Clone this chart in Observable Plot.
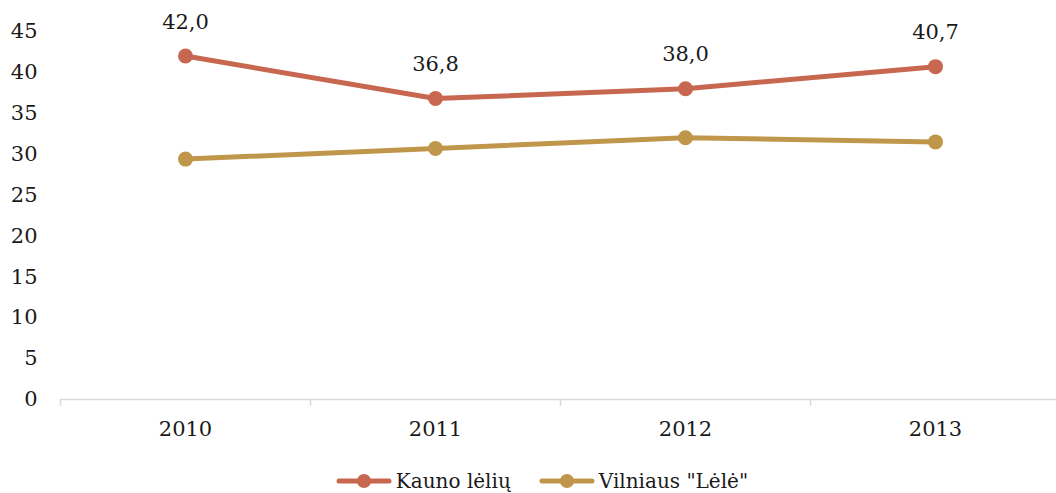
<!DOCTYPE html>
<html>
<head>
<meta charset="utf-8">
<script src="https://cdn.jsdelivr.net/npm/d3@7"></script>
<script src="https://cdn.jsdelivr.net/npm/@observablehq/plot@0.6"></script>
<style>
  html, body { margin: 0; padding: 0; background: #fff; overflow: hidden; }
  #chart svg { display: block; }
  .legend { display: flex; justify-content: center; align-items: center; height: 26px; margin-top: 14px; font-family: "DejaVu Serif", serif; font-size: 20px; color: #1a1a1a; padding-left: 28px; }
  .legend .item { display: flex; align-items: center; margin: 0 14px; }
  .legend svg { margin-right: 4px; }
</style>
</head>
<body>
<div id="chart"></div>
<div class="legend" id="legend"></div>
<script>
const years = ["2010", "2011", "2012", "2013"];
const seriesNames = ["Kauno lėlių", "Vilniaus \"Lėlė\""];
const kauno = [42.0, 36.8, 38.0, 40.7];
const vilniaus = [29.4, 30.7, 32.0, 31.5];
const colors = ["#C8674F", "#C0974A"];
const yTicks = [0, 5, 10, 15, 20, 25, 30, 35, 40, 45];

const data = [
  ...years.map((y, i) => ({year: y, value: kauno[i], series: seriesNames[0]})),
  ...years.map((y, i) => ({year: y, value: vilniaus[i], series: seriesNames[1]}))
];
const fmt = v => v.toFixed(1).replace(".", ",");

const chart = Plot.plot({
  width: 1056,
  height: 454,
  marginTop: 31,
  marginBottom: 55,
  marginLeft: 60,
  marginRight: 0,
  style: {fontFamily: "DejaVu Serif, serif", fontSize: "21px", color: "#1a1a1a", background: "#fff"},
  x: {type: "band", domain: years, range: [60, 1060], padding: 0},
  y: {domain: [0, 45]},
  color: {domain: seriesNames, range: colors},
  marks: [
    Plot.axisY({ticks: yTicks, tickSize: 0, tickPadding: 23, label: null, fontSize: 21}),
    Plot.axisX({tickSize: 0, tickPadding: 22, label: null, fontSize: 21}),
    Plot.ruleY([0], {stroke: "#d9d9d9", strokeWidth: 1.5}),
    Plot.ruleX(years, {x: d => d, dx: -125, y1: 0, y2: -0.85, stroke: "#d9d9d9", strokeWidth: 1.5}),
    Plot.line(data, {x: "year", y: "value", z: "series", stroke: "series", strokeWidth: 5, strokeLinecap: "round"}),
    Plot.dot(data, {x: "year", y: "value", fill: "series", r: 7.5}),
    Plot.text(data.filter(d => d.series === seriesNames[0]), {x: "year", y: "value", text: d => fmt(d.value), dy: -34, fontSize: 21, fill: "#1a1a1a"})
  ]
});
document.getElementById("chart").appendChild(chart);

const legend = document.getElementById("legend");
seriesNames.forEach((name, i) => {
  const item = document.createElement("div");
  item.className = "item";
  item.innerHTML = `<svg width="56" height="20"><line x1="3" y1="10" x2="53" y2="10" stroke="${colors[i]}" stroke-width="5" stroke-linecap="round"/><circle cx="28" cy="10" r="7" fill="${colors[i]}"/></svg><span>${name.replace(/"/g, "&quot;")}</span>`;
  legend.appendChild(item);
});
</script>
</body>
</html>
